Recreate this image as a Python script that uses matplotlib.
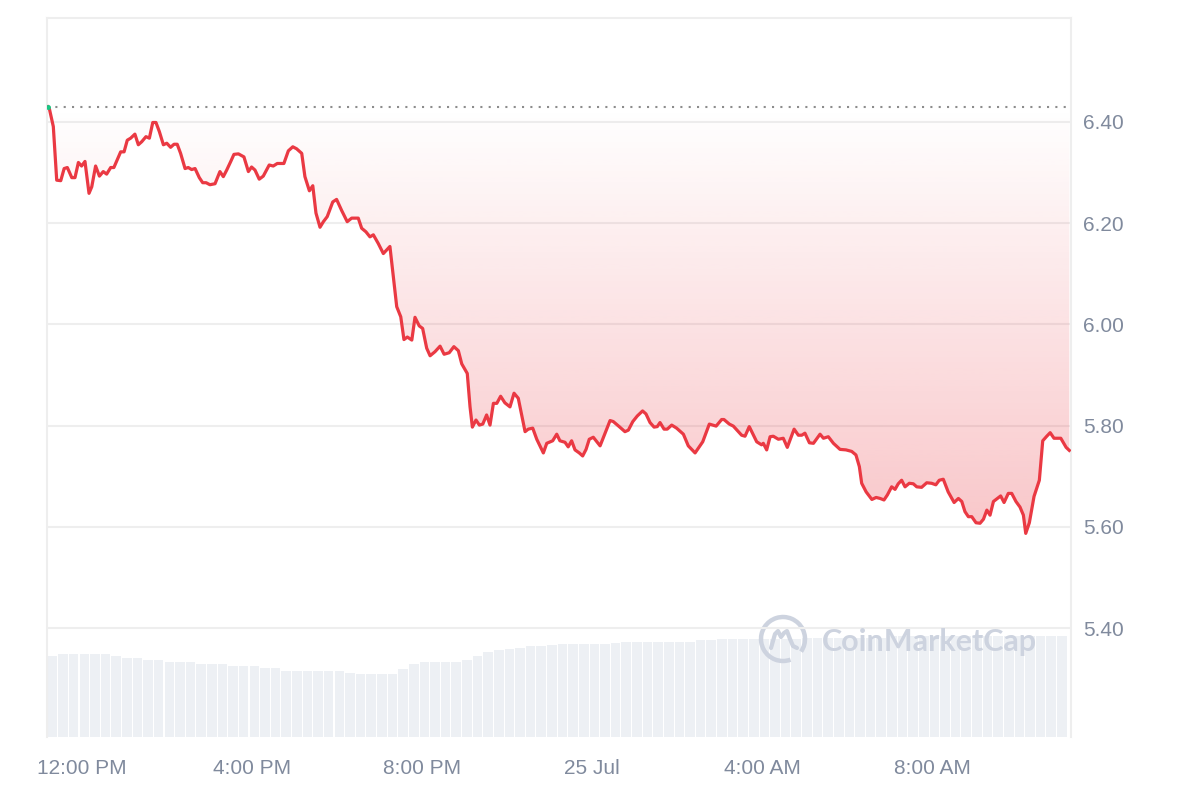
import numpy as np
import matplotlib
matplotlib.use("Agg")
import matplotlib.pyplot as plt
from matplotlib.patches import Arc
from matplotlib.lines import Line2D
from matplotlib.transforms import IdentityTransform

# hours after 12:00 PM (24 Jul) and price in USD
hours = [-0.80, -0.77, -0.675, -0.595, -0.50, -0.42, -0.345, -0.24, -0.165, -0.085,
         -0.01, 0.07, 0.165, 0.23, 0.32, 0.41, 0.50, 0.58, 0.675, 0.75,
         0.91, 0.99, 1.065, 1.145, 1.245, 1.325, 1.405, 1.505, 1.585, 1.665,
         1.74, 1.82, 1.915, 1.995, 2.085, 2.165, 2.24, 2.32, 2.425, 2.50,
         2.58, 2.66, 2.76, 2.84, 2.92, 3.01, 3.13, 3.245, 3.325, 3.405,
         3.50, 3.575, 3.68, 3.81, 3.915, 3.99, 4.07, 4.17, 4.265, 4.405,
         4.50, 4.595, 4.75, 4.855, 4.96, 5.05, 5.17, 5.245, 5.35, 5.43,
         5.505, 5.60, 5.68, 5.77, 5.90, 5.99, 6.11, 6.24, 6.345, 6.50,
         6.58, 6.68, 6.775, 6.855, 6.97, 7.09, 7.245, 7.405, 7.50, 7.575,
         7.655, 7.76, 7.835, 7.935, 8.015, 8.11, 8.19, 8.305, 8.425, 8.52,
         8.64, 8.75, 8.855, 8.935, 9.065, 9.13, 9.185, 9.27, 9.35, 9.43,
         9.52, 9.60, 9.68, 9.76, 9.85, 9.95, 10.07, 10.165, 10.265, 10.425,
         10.50, 10.605, 10.70, 10.855, 10.935, 11.075, 11.17, 11.245, 11.365, 11.44,
         11.52, 11.60, 11.70, 11.78, 11.86, 11.935, 12.03, 12.19, 12.425, 12.50,
         12.64, 12.775, 12.855, 12.96, 13.065, 13.19, 13.27, 13.365, 13.46, 13.535,
         13.60, 13.695, 13.77, 13.875, 13.99, 14.15, 14.265, 14.425, 14.605, 14.76,
         14.92, 15.05, 15.105, 15.23, 15.325, 15.52, 15.60, 15.70, 15.875, 15.99,
         16.03, 16.11, 16.19, 16.265, 16.385, 16.50, 16.595, 16.755, 16.855, 16.935,
         17.01, 17.115, 17.21, 17.365, 17.445, 17.56, 17.68, 17.835, 17.975, 18.11,
         18.21, 18.29, 18.345, 18.45, 18.585, 18.685, 18.78, 18.87, 18.95, 19.05,
         19.13, 19.205, 19.285, 19.365, 19.465, 19.56, 19.64, 19.755, 19.875, 19.99,
         20.09, 20.17, 20.265, 20.38, 20.52, 20.62, 20.70, 20.775, 20.855, 20.935,
         21.035, 21.13, 21.21, 21.29, 21.365, 21.445, 21.54, 21.615, 21.695, 21.795,
         21.875, 21.975, 22.07, 22.15, 22.205, 22.29, 22.40, 22.525, 22.605, 22.70,
         22.78, 22.87, 23.03, 23.155, 23.23]

prices = [6.430, 6.427, 6.391, 6.285, 6.284, 6.308, 6.310, 6.290, 6.290, 6.320,
          6.313, 6.322, 6.259, 6.272, 6.313, 6.293, 6.302, 6.297, 6.310, 6.310,
          6.341, 6.341, 6.364, 6.368, 6.376, 6.355, 6.361, 6.371, 6.368, 6.399,
          6.399, 6.381, 6.355, 6.358, 6.350, 6.356, 6.356, 6.338, 6.308, 6.310,
          6.306, 6.308, 6.290, 6.280, 6.280, 6.276, 6.278, 6.302, 6.292, 6.305,
          6.322, 6.336, 6.337, 6.331, 6.302, 6.311, 6.305, 6.287, 6.293, 6.315,
          6.313, 6.318, 6.318, 6.343, 6.351, 6.347, 6.338, 6.292, 6.264, 6.274,
          6.220, 6.192, 6.203, 6.213, 6.242, 6.247, 6.225, 6.203, 6.210, 6.210,
          6.190, 6.183, 6.173, 6.177, 6.160, 6.140, 6.154, 6.035, 6.015, 5.970,
          5.975, 5.969, 6.014, 5.997, 5.992, 5.953, 5.938, 5.946, 5.957, 5.941,
          5.944, 5.956, 5.948, 5.922, 5.903, 5.837, 5.797, 5.811, 5.801, 5.803,
          5.821, 5.801, 5.844, 5.844, 5.858, 5.845, 5.837, 5.864, 5.854, 5.788,
          5.793, 5.795, 5.773, 5.746, 5.765, 5.770, 5.783, 5.770, 5.767, 5.758,
          5.770, 5.752, 5.746, 5.740, 5.753, 5.773, 5.777, 5.760, 5.810, 5.808,
          5.798, 5.788, 5.791, 5.808, 5.819, 5.829, 5.823, 5.806, 5.797, 5.798,
          5.806, 5.793, 5.793, 5.801, 5.795, 5.783, 5.760, 5.746, 5.768, 5.803,
          5.799, 5.812, 5.812, 5.803, 5.799, 5.781, 5.779, 5.798, 5.768, 5.762,
          5.765, 5.752, 5.778, 5.779, 5.773, 5.775, 5.757, 5.793, 5.781, 5.781,
          5.785, 5.766, 5.765, 5.783, 5.775, 5.778, 5.765, 5.753, 5.752, 5.749,
          5.742, 5.719, 5.686, 5.669, 5.654, 5.658, 5.656, 5.653, 5.663, 5.679,
          5.674, 5.685, 5.692, 5.679, 5.686, 5.685, 5.679, 5.678, 5.687, 5.686,
          5.683, 5.692, 5.694, 5.669, 5.648, 5.656, 5.650, 5.630, 5.620, 5.620,
          5.608, 5.607, 5.615, 5.633, 5.623, 5.650, 5.656, 5.661, 5.648, 5.666,
          5.666, 5.650, 5.639, 5.623, 5.587, 5.608, 5.660, 5.692, 5.770, 5.779,
          5.786, 5.775, 5.775, 5.757, 5.751]

# relative volume, one bar per 15 minutes
volume = [81, 83, 83, 83, 83, 83, 81, 79, 79, 77, 77, 75, 75, 75, 73, 73,
          73, 71, 71, 71, 69, 69, 66, 66, 66, 66, 66, 66, 64, 63, 63, 63,
          63, 68, 73, 75, 75, 75, 75, 77, 81, 85, 87, 88, 89, 91, 91, 92,
          93, 93, 93, 93, 93, 94, 95, 95, 95, 95, 95, 95, 95, 97, 97, 98,
          98, 98, 98, 98, 98, 98, 98, 99, 99, 99, 99, 99, 99, 99, 99, 101,
          101, 101, 101, 101, 101, 101, 101, 101, 101, 101, 101, 101, 101, 101, 101, 101]
vol_start = -0.82
vol_step = 0.25

tick_hours = [0, 4, 8, 12, 16, 20]
tick_labels = ["12:00 PM", "4:00 PM", "8:00 PM", "25 Jul", "4:00 AM", "8:00 AM"]
price_ticks = [5.40, 5.60, 5.80, 6.00, 6.20, 6.40]

RED = "#ea3943"
GRID = "#eeeeee"
LABEL = "#808a9d"

plt.rcParams["font.family"] = ["Liberation Sans", "DejaVu Sans"]

fig = plt.figure(figsize=(12, 8), dpi=100)
ax = fig.add_axes([47 / 1200, 63 / 800, 1024 / 1200, 719 / 800])
ax2 = ax.twinx()
ax.set_zorder(ax2.get_zorder() + 1)
ax.patch.set_visible(False)

xmin, xmax = -0.8235, 23.27
ylo, yhi = 5.1846, 6.6055

# volume bars
vol_x = vol_start + vol_step * (np.arange(len(volume)) + 0.5)
ax2.bar(vol_x, volume, width=vol_step * 0.9, color="#edf0f4", linewidth=0)
ax2.set_ylim(0, 719)
ax2.set_yticks([])
for s in ax2.spines.values():
    s.set_visible(False)

# grid
for p in price_ticks:
    ax.axhline(p, color=GRID, lw=1.5, zorder=0.5)

baseline = prices[0]
ax.axhline(baseline, color="#8c8c8c", lw=1.5, ls=(0, (1, 3)), zorder=2)

# gradient fill between baseline and price line
poly = ax.fill_between(hours, prices, baseline, color="none", lw=0)
grad_bottom = 5.55
n = 256
alpha = np.linspace(0.30, 0.0, n)
rgba = np.zeros((n, 1, 4))
rgba[..., 0] = 234 / 255
rgba[..., 1] = 57 / 255
rgba[..., 2] = 67 / 255
rgba[:, 0, 3] = alpha
im = ax.imshow(rgba, extent=[xmin, xmax, grad_bottom, baseline], origin="lower",
               aspect="auto", zorder=1, interpolation="bilinear")
im.set_clip_path(poly.get_paths()[0], transform=ax.transData)
ax.set_xlim(xmin, xmax)
ax.set_ylim(ylo, yhi)

ax.plot(hours, prices, color=RED, lw=2.3, zorder=3, solid_joinstyle="round")
ax.plot(hours[:1], prices[:1], "o", color="#16c784", ms=2.5, zorder=4)

# axes styling
ax.yaxis.tick_right()
ax.set_yticks(price_ticks)
ax.set_yticklabels([f"{p:.2f}" for p in price_ticks])
ax.set_xticks(tick_hours)
ax.set_xticklabels(tick_labels)
ax.tick_params(axis="y", length=0, pad=9, labelsize=15, labelcolor=LABEL)
ax.tick_params(axis="x", length=0, pad=16, labelsize=15, labelcolor=LABEL)
for side, s in ax.spines.items():
    s.set_color(GRID)
    s.set_linewidth(1.5)
ax.spines["bottom"].set_visible(False)

# watermark
wm = "#cdd3df"
fig.add_artist(Arc((783, 800 - 639), 44, 44, theta1=-35, theta2=290, lw=3.2,
                   color=wm, transform=IdentityTransform(), zorder=1))
mx = np.array([-12, -8, -5, -2, 1, 4, 7, 10, 14]) + 783
my = np.array([-9, 5, 8, 2, 6, 8, 0, -7, -9]) + 800 - 639
fig.add_artist(Line2D(mx, my, lw=3.0, color=wm, transform=IdentityTransform(),
                      solid_capstyle="round", solid_joinstyle="round", zorder=1))
fig.text(822 / 1200, 1 - 642 / 800, "CoinMarketCap", fontsize=22, fontweight="bold",
         color=wm, ha="left", va="center", family=["Lato", "DejaVu Sans"], zorder=1)

fig.savefig("out.png", dpi=100, facecolor="white")
